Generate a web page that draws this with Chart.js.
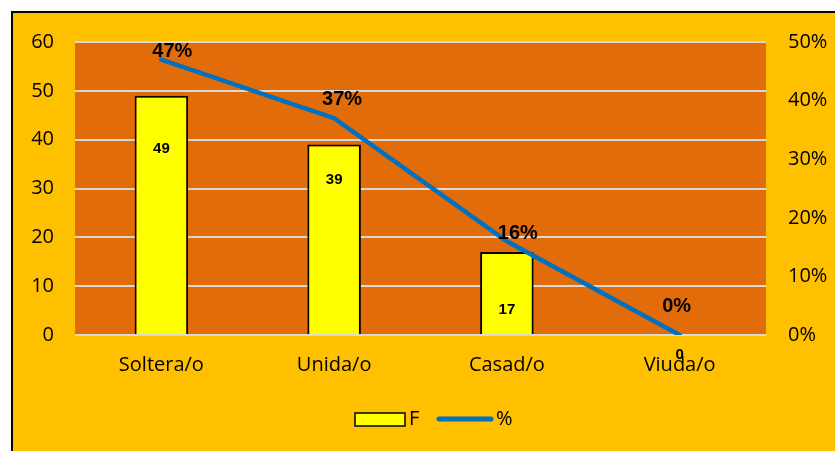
<!DOCTYPE html>
<html>
<head>
<meta charset="utf-8">
<script src="https://cdn.jsdelivr.net/npm/chart.js@4/dist/chart.umd.min.js"></script>
<style>
  html, body { margin: 0; padding: 0; background: #ffffff; }
  #wrap { position: absolute; left: 0; top: 0; width: 835px; height: 451px; }
</style>
</head>
<body>
<div id="wrap"><canvas id="c" width="835" height="451"></canvas></div>
<script>
// Estado civil: frecuencia (F) y porcentaje (%)
const categories = ['Soltera/o', 'Unida/o', 'Casad/o', 'Viuda/o'];
const frecuencia = [49, 39, 17, 0];
const porcentaje = [0.47, 0.37, 0.16, 0];
const leftTicks = [0, 10, 20, 30, 40, 50, 60];
const rightTicks = [0, 0.1, 0.2, 0.3, 0.4, 0.5];

const GOLD = '#FFC000';
const ORANGE = '#E36C0A';
const YELLOW = '#FFFF00';
const BLUE = '#0070C0';
const GRID = '#D9D9D9';
const TICK_FONT = { family: '"Open Sans"', size: 20 };

// Fondo del gráfico, marco y área de trazado
const backdrop = {
  id: 'backdrop',
  beforeDraw(chart) {
    const { ctx, chartArea: a } = chart;
    ctx.save();
    ctx.fillStyle = '#ffffff';
    ctx.fillRect(0, 0, chart.width, chart.height);
    ctx.fillStyle = GOLD;
    ctx.fillRect(12, 12, chart.width - 12, chart.height - 12);
    ctx.strokeStyle = '#000000';
    ctx.lineWidth = 2;
    ctx.beginPath();
    ctx.moveTo(12, chart.height);
    ctx.lineTo(12, 12);
    ctx.lineTo(chart.width, 12);
    ctx.stroke();
    ctx.fillStyle = ORANGE;
    ctx.fillRect(a.left, a.top, a.right - a.left, a.bottom - a.top);
    ctx.restore();
  }
};

// Etiquetas de datos de barras y de la línea
const valueLabels = {
  id: 'valueLabels',
  afterDatasetsDraw(chart) {
    const { ctx } = chart;
    const yL = chart.scales.y;
    ctx.save();
    ctx.fillStyle = '#000000';
    ctx.textAlign = 'center';
    ctx.textBaseline = 'middle';

    // F: dentro de cada barra
    const barShift = [53, 35, 58, 20];
    ctx.font = 'bold 15px "Liberation Sans", Arial, sans-serif';
    chart.getDatasetMeta(1).data.forEach((bar, i) => {
      const y = yL.getPixelForValue(frecuencia[i]) + barShift[i];
      ctx.fillText(String(frecuencia[i]), bar.x, y);
    });

    // %: sobre cada punto de la línea
    const dx = [11, 8, 11, -3];
    const dy = [-8, -19, -8, -29];
    ctx.font = 'bold 20px "Liberation Sans", Arial, sans-serif';
    chart.getDatasetMeta(0).data.forEach((pt, i) => {
      ctx.fillText(Math.round(porcentaje[i] * 100) + '%', pt.x + dx[i], pt.y + dy[i]);
    });
    ctx.restore();
  }
};

// Leyenda inferior
const legendBox = {
  id: 'legendBox',
  afterDraw(chart) {
    const { ctx } = chart;
    const cy = 419;
    ctx.save();
    ctx.fillStyle = YELLOW;
    ctx.strokeStyle = '#000000';
    ctx.lineWidth = 1.5;
    ctx.fillRect(355, cy - 6, 50, 13);
    ctx.strokeRect(355, cy - 6, 50, 13);
    ctx.fillStyle = '#000000';
    ctx.font = '20px "Open Sans"';
    ctx.textBaseline = 'middle';
    ctx.textAlign = 'left';
    ctx.fillText('F', 409, cy);
    ctx.strokeStyle = BLUE;
    ctx.lineWidth = 5;
    ctx.lineCap = 'round';
    ctx.beginPath();
    ctx.moveTo(439, cy);
    ctx.lineTo(491, cy);
    ctx.stroke();
    ctx.fillText('%', 496, cy);
    ctx.restore();
  }
};

new Chart(document.getElementById('c'), {
  data: {
    labels: categories,
    datasets: [
      {
        type: 'line',
        label: '%',
        data: porcentaje,
        yAxisID: 'y1',
        borderColor: BLUE,
        borderWidth: 4.5,
        borderCapStyle: 'round',
        pointRadius: 0,
        tension: 0,
        order: 0
      },
      {
        type: 'bar',
        label: 'F',
        data: frecuencia,
        yAxisID: 'y',
        backgroundColor: YELLOW,
        borderColor: '#000000',
        borderWidth: 2,
        categoryPercentage: 1,
        barPercentage: 0.31,
        order: 1
      }
    ]
  },
  options: {
    responsive: false,
    animation: false,
    devicePixelRatio: 1,
    layout: { padding: { top: 42, left: 0, right: 0, bottom: 0 } },
    plugins: { legend: { display: false }, tooltip: { enabled: false } },
    scales: {
      x: {
        grid: { display: false, drawTicks: false },
        border: { display: false },
        ticks: { color: '#000000', font: TICK_FONT, padding: 18 },
        afterFit(s) { s.height = 116; }
      },
      y: {
        position: 'left',
        min: 0, max: 60,
        afterBuildTicks(s) { s.ticks = leftTicks.map(v => ({ value: v })); },
        grid: { color: GRID, lineWidth: 2, drawTicks: false },
        border: { display: false },
        ticks: { color: '#000000', font: TICK_FONT, padding: 21 },
        afterFit(s) { s.width = 75; }
      },
      y1: {
        position: 'right',
        min: 0, max: 0.5,
        afterBuildTicks(s) { s.ticks = rightTicks.map(v => ({ value: v })); },
        grid: { display: false, drawTicks: false },
        border: { display: false },
        ticks: {
          color: '#000000', font: TICK_FONT, padding: 22,
          callback: v => Math.round(v * 100) + '%'
        },
        afterFit(s) { s.width = 69; }
      }
    }
  },
  plugins: [backdrop, valueLabels, legendBox]
});
</script>
</body>
</html>
